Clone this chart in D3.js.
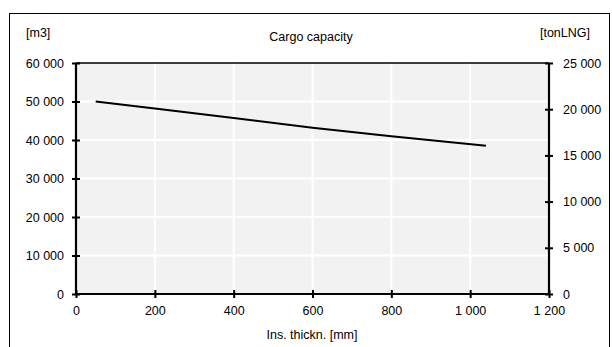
<!DOCTYPE html>
<html>
<head>
<meta charset="utf-8">
<script src="https://cdn.jsdelivr.net/npm/d3@7"></script>
<style>
  html, body { margin: 0; padding: 0; background: #fff; }
  svg { display: block; font-family: "Liberation Sans", Arial, sans-serif; }
</style>
</head>
<body>
<svg id="chart" width="612" height="347"></svg>
<script>
// Insulation thickness [mm] vs cargo volume [m3]
const thickness = [50, 200, 400, 600, 800, 1040];
const volumeM3 = [50000, 48200, 45700, 43200, 41000, 38500];

const xTicks = [0, 200, 400, 600, 800, 1000, 1200];
const yLeftTicks = [0, 10000, 20000, 30000, 40000, 50000, 60000];
const yRightTicks = [0, 5000, 10000, 15000, 20000, 25000];

const title = "Cargo capacity";
const leftUnit = "[m3]";
const rightUnit = "[tonLNG]";
const xTitle = "Ins. thickn. [mm]";

const svg = d3.select("#chart");
const m = { left: 76, right: 549, top: 63, bottom: 294 };

const x = d3.scaleLinear().domain([0, 1200]).range([m.left, m.right]);
const yL = d3.scaleLinear().domain([0, 60000]).range([m.bottom, m.top]);
const yR = d3.scaleLinear().domain([0, 25000]).range([m.bottom, m.top]);

const fmt = v => d3.format(",")(v).replace(/,/g, " ");

// outer frame
svg.append("rect")
  .attr("x", 9.5).attr("y", 13.5)
  .attr("width", 600).attr("height", 360)
  .attr("fill", "none").attr("stroke", "#000").attr("stroke-width", 1);

// plot background
svg.append("rect")
  .attr("x", m.left).attr("y", m.top)
  .attr("width", m.right - m.left).attr("height", m.bottom - m.top)
  .attr("fill", "#f2f2f2");

// grid
const grid = svg.append("g").attr("stroke", "#fff").attr("stroke-width", 2);
grid.selectAll("line.v").data(xTicks.slice(1, -1)).join("line")
  .attr("x1", d => x(d)).attr("x2", d => x(d))
  .attr("y1", m.top).attr("y2", m.bottom);
grid.selectAll("line.h").data(yLeftTicks.slice(1, -1)).join("line")
  .attr("x1", m.left).attr("x2", m.right)
  .attr("y1", d => yL(d)).attr("y2", d => yL(d));

// axes
const axisStyle = g => {
  g.select(".domain").remove();
  g.selectAll(".tick line").attr("stroke", "#000").attr("stroke-width", 2);
  g.selectAll(".tick text").attr("font-size", 12.5).attr("fill", "#000")
    .attr("font-family", "'Liberation Sans', Arial, sans-serif");
};

svg.append("g")
  .attr("transform", `translate(0,${m.bottom})`)
  .call(d3.axisBottom(x).tickValues(xTicks).tickFormat(fmt).tickSizeInner(4).tickSizeOuter(0).tickPadding(8))
  .call(axisStyle)
  .call(g => g.selectAll(".tick line").attr("y1", -4));

svg.append("g")
  .attr("transform", `translate(${m.left},0)`)
  .call(d3.axisLeft(yL).tickValues(yLeftTicks).tickFormat(fmt).tickSizeInner(4).tickSizeOuter(0).tickPadding(8))
  .call(axisStyle)
  .call(g => g.selectAll(".tick line").attr("x1", 4));

svg.append("g")
  .attr("transform", `translate(${m.right},0)`)
  .call(d3.axisRight(yR).tickValues(yRightTicks).tickFormat(fmt).tickSizeInner(4).tickSizeOuter(0).tickPadding(10))
  .call(axisStyle)
  .call(g => g.selectAll(".tick line").attr("x1", -4));

// plot border
svg.append("line").attr("x1", m.left).attr("x2", m.right).attr("y1", m.top).attr("y2", m.top)
  .attr("stroke", "#000").attr("stroke-width", 1.5);
svg.append("path")
  .attr("d", `M${m.left},${m.top}V${m.bottom}H${m.right}V${m.top}`)
  .attr("fill", "none").attr("stroke", "#000").attr("stroke-width", 2.2);

// data line
const line = d3.line().x((d, i) => x(thickness[i])).y(d => yL(d));
svg.append("path")
  .datum(volumeM3)
  .attr("d", line)
  .attr("fill", "none").attr("stroke", "#000").attr("stroke-width", 2);

// texts
const txt = (s, xp, yp, anchor) => svg.append("text")
  .attr("x", xp).attr("y", yp).attr("text-anchor", anchor)
  .attr("font-size", 12.5).attr("fill", "#000").text(s);

txt(leftUnit, 26, 37, "start");
txt(title, 311, 41, "middle");
txt(rightUnit, 590, 37, "end");
txt(xTitle, 312, 339, "middle");
</script>
</body>
</html>
